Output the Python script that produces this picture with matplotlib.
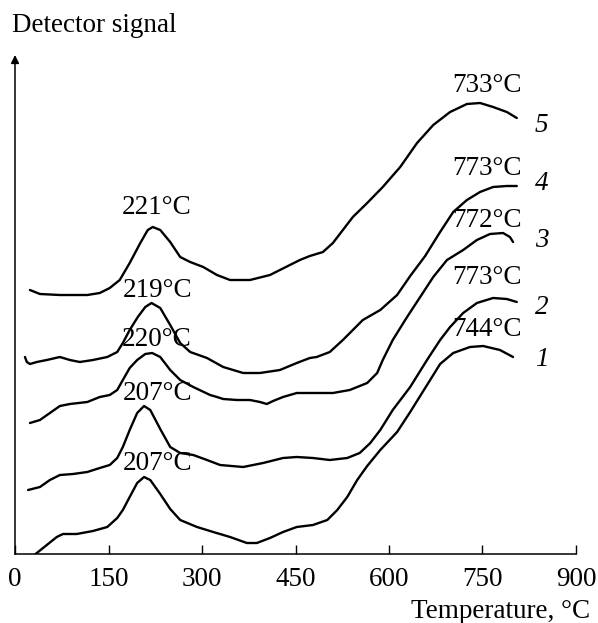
import numpy as np
import matplotlib.pyplot as plt

plt.rcParams['font.family'] = ['Liberation Serif', 'DejaVu Serif']

# --- DATA (temperature in °C, detector signal in arbitrary units) ---
t1 = [29, 35, 51, 67, 77, 99, 125, 148, 164, 173, 184, 196, 207, 217, 233, 249, 265, 292,
      318, 345, 372, 388, 409, 430, 452, 478, 501, 517, 533, 549, 565, 586, 613, 634, 661,
      682, 703, 730, 751, 778, 799]
s1 = [-2, 1, 9, 17, 20, 20, 23, 27, 36, 44, 57, 71, 77, 74, 60, 45, 34, 27,
      22, 17, 11, 11, 16, 22, 27, 29, 34, 44, 57, 74, 88, 104, 122, 142, 169,
      190, 201, 207, 208, 204, 197]

t2 = [21, 40, 56, 72, 93, 116, 136, 152, 164, 173, 184, 196, 207, 217, 233, 249, 265, 286,
      308, 329, 366, 398, 430, 452, 478, 505, 533, 553, 570, 586, 606, 634, 661, 682, 698,
      719, 741, 767, 789, 805]
s2 = [64, 67, 74, 79, 80, 82, 86, 89, 96, 107, 124, 141, 148, 144, 125, 107, 101, 99,
      94, 89, 87, 91, 96, 97, 96, 94, 96, 101, 111, 124, 144, 167, 194, 214, 227,
      241, 251, 256, 255, 252]

t3 = [24, 40, 56, 72, 88, 116, 136, 152, 164, 173, 184, 196, 209, 220, 233, 249, 265, 286,
      313, 324, 334, 356, 377, 393, 404, 414, 430, 452, 484, 510, 537, 565, 581, 590, 606,
      629, 650, 671, 693, 719, 741, 762, 783, 794, 799]
s3 = [131, 134, 141, 148, 150, 152, 157, 159, 164, 174, 186, 194, 200, 201, 197, 184, 174, 167,
      159, 157, 155, 154, 154, 152, 150, 153, 157, 161, 161, 161, 164, 171, 181, 194, 214,
      237, 257, 277, 294, 304, 314, 320, 321, 317, 312]

t4 = [16, 19, 24, 35, 51, 72, 88, 104, 125, 148, 164, 173, 184, 197, 209, 219, 233, 249,
      265, 281, 308, 334, 366, 393, 425, 452, 473, 484, 505, 526, 542, 558, 586, 613, 634,
      658, 682, 703, 725, 746, 767, 789, 805]
s4 = [197, 192, 190, 192, 194, 197, 194, 192, 194, 197, 202, 211, 224, 237, 247, 251, 246, 229,
      211, 202, 196, 187, 181, 181, 184, 191, 196, 197, 202, 214, 224, 234, 244, 259, 278,
      298, 322, 342, 354, 362, 367, 368, 368]

t5 = [24, 40, 72, 116, 136, 152, 168, 184, 201, 213, 221, 233, 249, 265, 281, 302, 324, 345,
      377, 409, 441, 457, 473, 494, 510, 526, 542, 565, 590, 618, 645, 671, 698, 725, 746,
      767, 789, 805]
s5 = [264, 260, 259, 259, 261, 266, 274, 291, 311, 324, 327, 324, 312, 297, 292, 287, 279, 274,
      274, 279, 289, 294, 298, 302, 311, 324, 337, 351, 367, 387, 411, 429, 442, 450, 451,
      447, 442, 436]

curves = [(t1, s1), (t2, s2), (t3, s3), (t4, s4), (t5, s5)]
curve_names = ['1', '2', '3', '4', '5']
low_peaks = ['207°C', '207°C', '220°C', '219°C', '221°C']
high_peaks = ['744°C', '773°C', '772°C', '773°C', '733°C']
x_ticks = [0, 150, 300, 450, 600, 750, 900]

# text placement
low_y = [91, 161, 214, 264, 347]
high_y = [224, 277, 334, 386, 469]
name_y = [194, 247, 314, 371, 429]

fig = plt.figure(figsize=(5.98, 6.23), dpi=100)
ax = fig.add_axes([15/598, 69/623, 561/598, 499/623])

for t, s in curves:
    ax.plot(t, s, color='black', lw=1.7, solid_joinstyle='round', solid_capstyle='round')

for i in range(5):
    ax.text(228, low_y[i], low_peaks[i], ha='center', va='center', fontsize=19.5)
    ax.text(757, high_y[i], high_peaks[i], ha='center', va='center', fontsize=19.5)
    ax.text(845, name_y[i], curve_names[i], ha='center', va='center', fontsize=19.5,
            style='italic')

ax.set_xlim(0, 900)
ax.set_ylim(0, 499)
ax.set_xticks(x_ticks)
ax.set_xticklabels([str(v) for v in x_ticks])
ax.set_yticks([])
ax.tick_params(axis='x', direction='in', length=6.5, width=1, pad=9, labelsize=19.5)

for side in ['top', 'right', 'left']:
    ax.spines[side].set_visible(False)
ax.spines['bottom'].set_linewidth(1.1)

# y axis with arrow
ax.annotate('', xy=(0, 1.0), xytext=(0, 0), xycoords='axes fraction',
            arrowprops=dict(arrowstyle='-|>', color='black', lw=1.1,
                            mutation_scale=12, shrinkA=0, shrinkB=0))

fig.text(12/598, 1 - 25/623, 'Detector signal', ha='left', va='center', fontsize=19.5)
fig.text(590/598, 1 - 612/623, 'Temperature, °C', ha='right', va='center', fontsize=19.5)

fig.savefig('out.png', dpi=100)
